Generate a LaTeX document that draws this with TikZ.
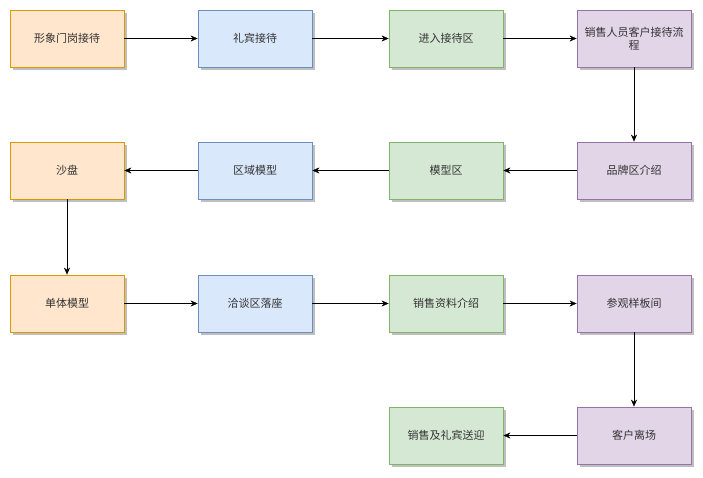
\documentclass[tikz,border=0pt]{standalone}
\usepackage{fontspec}
\setmainfont{Noto Sans CJK SC}
\usetikzlibrary{arrows.meta,shadows}
\definecolor{orangefill}{HTML}{FFE6CC}\definecolor{orangeline}{HTML}{D79B00}
\definecolor{bluefill}{HTML}{DAE8FC}\definecolor{blueline}{HTML}{6C8EBF}
\definecolor{greenfill}{HTML}{D5E8D4}\definecolor{greenline}{HTML}{82B366}
\definecolor{purplefill}{HTML}{E1D5E7}\definecolor{purpleline}{HTML}{9673A6}
\begin{document}
\begin{tikzpicture}[x=1pt, y=-1pt, >={Stealth[length=7pt,width=6pt]},
	box/.style={draw, line width=0.8pt, minimum width=114pt, minimum height=57pt, text width=104pt, align=center,
		font=\fontsize{11pt}{13pt}\selectfont, text=black!80, inner sep=0pt,
		drop shadow={shadow xshift=2.5pt, shadow yshift=-2.5pt, opacity=0.25, fill=black}},
	orangebox/.style={box, fill=orangefill, draw=orangeline},
	bluebox/.style={box, fill=bluefill, draw=blueline},
	greenbox/.style={box, fill=greenfill, draw=greenline},
	purplebox/.style={box, fill=purplefill, draw=purpleline}]
	\useasboundingbox (0,0) rectangle (703,477);
	% first row
	\node[orangebox] (menggang) at (67,38.5) {形象门岗接待};
	\node[bluebox] (libin) at (255,38.5) {礼宾接待};
	\node[greenbox] (jinru) at (446,38.5) {进入接待区};
	\node[purplebox] (liucheng) at (634,38.5) {销售人员客户接待流\\程};
	% second row
	\node[orangebox] (shapan) at (67,170.5) {沙盘};
	\node[bluebox] (quyu) at (255,170.5) {区域模型};
	\node[greenbox] (moxing) at (446,170.5) {模型区};
	\node[purplebox] (pinpai) at (634,170.5) {品牌区介绍};
	% third row
	\node[orangebox] (danti) at (67,303.5) {单体模型};
	\node[bluebox] (qiatan) at (255,303.5) {洽谈区落座};
	\node[greenbox] (ziliao) at (446,303.5) {销售资料介绍};
	\node[purplebox] (yangban) at (634,303.5) {参观样板间};
	% last row
	\node[greenbox] (songying) at (446,435.5) {销售及礼宾送迎};
	\node[purplebox] (lichang) at (634,435.5) {客户离场};
	% arrows
	\draw[->] (menggang) -- (libin);
	\draw[->] (libin) -- (jinru);
	\draw[->] (jinru) -- (liucheng);
	\draw[->] (liucheng) -- (pinpai);
	\draw[->] (pinpai) -- (moxing);
	\draw[->] (moxing) -- (quyu);
	\draw[->] (quyu) -- (shapan);
	\draw[->] (shapan) -- (danti);
	\draw[->] (danti) -- (qiatan);
	\draw[->] (qiatan) -- (ziliao);
	\draw[->] (ziliao) -- (yangban);
	\draw[->] (yangban) -- (lichang);
	\draw[->] (lichang) -- (songying);
\end{tikzpicture}
\end{document}
